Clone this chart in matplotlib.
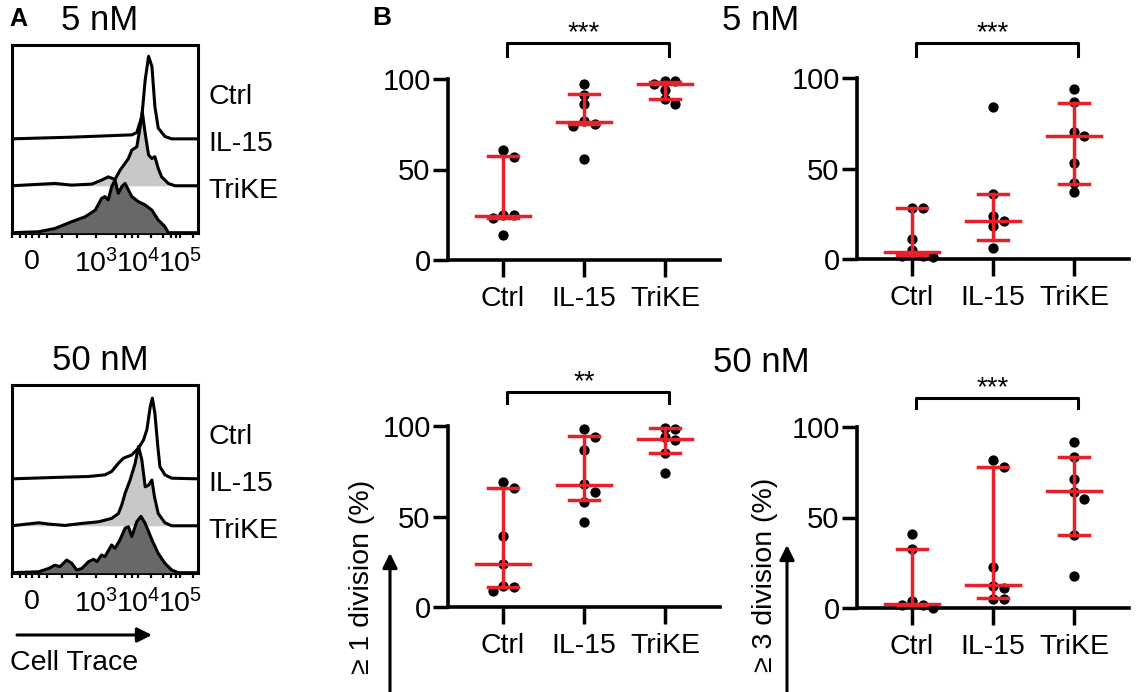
import numpy as np
import matplotlib
matplotlib.use("Agg")
import matplotlib.pyplot as plt
from matplotlib.patches import FancyArrowPatch

plt.rcParams['font.family'] = ['Liberation Sans', 'DejaVu Sans']
plt.rcParams['mathtext.default'] = 'regular'

# ---- panel A: Cell Trace histograms (x in decades, height in lane units) ----
conditions = ["Ctrl", "IL-15", "TriKE"]
hist_fill = ["white", "#c8c8c8", "#686868"]

ctrl5_x = [0.99, 2.42, 3.85, 3.97, 4.09, 4.17, 4.25, 4.33, 4.40, 4.48, 4.64, 4.80, 5.42]
ctrl5_h = [0, 0.036, 0.085, 0.135, 0.477, 1.26, 1.76, 1.54, 0.69, 0.23, 0.05, 0, 0]
il15_5_x = [0.99, 2.02, 2.42, 2.90, 3.13, 3.29, 3.45, 3.57, 3.77, 3.85, 3.97, 4.05, 4.10,
            4.17, 4.25, 4.33, 4.40, 4.48, 4.56, 4.72, 4.88, 5.42]
il15_5_h = [0, 0.05, 0.014, 0.036, 0.12, 0.19, 0.135, 0.33, 0.58, 0.76, 0.83, 1.26, 1.58,
            1.11, 0.655, 0.58, 0.62, 0.37, 0.19, 0.05, 0, 0]
trike5_x = [0.99, 1.63, 2.02, 2.42, 2.74, 2.98, 3.13, 3.21, 3.29, 3.37, 3.45, 3.53, 3.61,
            3.69, 3.77, 3.85, 4.01, 4.17, 4.33, 4.48, 4.64, 4.72, 5.42]
trike5_h = [0, 0.02, 0.09, 0.235, 0.34, 0.48, 0.73, 0.77, 0.70, 0.98, 1.12, 0.84, 0.98,
            1.05, 0.91, 0.77, 0.66, 0.59, 0.48, 0.27, 0.13, 0, 0]

ctrl50_x = [0.99, 2.02, 2.82, 3.21, 3.37, 3.53, 3.65, 3.85, 4.01, 4.13, 4.21, 4.29, 4.34,
            4.40, 4.47, 4.52, 4.64, 4.80, 5.42]
ctrl50_h = [0, 0.03, 0.05, 0.085, 0.157, 0.33, 0.44, 0.51, 0.655, 0.83, 1.05, 1.54, 1.72,
            1.40, 0.69, 0.26, 0.085, 0.014, 0]
il15_50_x = [0.99, 1.63, 1.87, 2.26, 2.66, 3.06, 3.37, 3.53, 3.61, 3.69, 3.81, 3.93, 4.01,
             4.09, 4.17, 4.25, 4.33, 4.39, 4.48, 4.64, 4.80, 5.42]
il15_50_h = [0, 0.064, 0.036, 0.007, 0.05, 0.085, 0.157, 0.26, 0.44, 0.69, 0.975, 1.33, 1.69,
             1.40, 0.83, 0.865, 0.975, 0.62, 0.26, 0.064, 0, 0]
trike50_x = [0.99, 1.63, 1.87, 2.02, 2.14, 2.30, 2.42, 2.54, 2.66, 2.82, 2.94, 3.02, 3.13,
             3.21, 3.37, 3.45, 3.57, 3.69, 3.77, 3.85, 3.97, 4.07, 4.17, 4.33, 4.48, 4.64,
             4.80, 4.96, 5.42]
trike50_h = [0, 0.02, 0.09, 0.16, 0.128, 0.27, 0.2, 0.057, 0.09, 0.235, 0.285, 0.235, 0.377,
             0.34, 0.59, 0.52, 0.70, 0.95, 0.98, 0.77, 1.09, 1.20, 1.05, 0.70, 0.41, 0.2,
             0.057, 0, 0]

hist_major = [1.476, 3, 4, 5]
hist_major_labels = ["0", "$10^3$", "$10^4$", "$10^5$"]
hist_minor = [1.0, 1.19, 1.33, 1.63, 1.83, 2.18, 2.54, 3.48, 3.7, 3.85, 4.3, 4.6, 4.78,
              4.9, 5.3]

# ---- panel B: % divided, per group: points, median, lower / upper IQR ----
groups = ["Ctrl", "IL-15", "TriKE"]

div1_5nm = [[61, 57, 25, 25, 23, 14],
            [97, 91, 86, 77, 75, 74, 56],
            [99, 99, 97, 94, 89, 86]]
div1_5nm_stats = [(24.5, 23, 57.5), (76.5, 75, 91.5), (97, 89, 98.5)]

div3_5nm = [[28, 28, 11, 5, 1.5, 1.5, 1],
            [84, 36, 23.5, 21, 18, 6],
            [94, 87, 70, 68, 53, 42, 37]]
div3_5nm_stats = [(4, 2, 28), (21, 10.5, 36), (68, 41.5, 86)]

div1_50nm = [[69, 65.5, 39, 24, 11.5, 11, 9],
             [98.5, 94, 87, 68, 63.5, 58, 47],
             [99, 98.5, 94, 92, 85, 74]]
div1_50nm_stats = [(24, 11, 65.5), (67.5, 59, 94.5), (93, 85, 99)]

div3_50nm = [[41, 32.5, 3.7, 1.8, 1.8, 0],
             [82, 78, 22.5, 12, 11, 5, 5],
             [91.5, 83.5, 71, 64, 60, 40.5, 17.5]]
div3_50nm_stats = [(2.2, 1.8, 32.6), (12.5, 5.5, 78), (64.5, 40.5, 83.5)]

sig_labels = ["***", "***", "**", "***"]

RED = "#e8202a"
W, H = 1141, 692
fig = plt.figure(figsize=(W / 100, H / 100), dpi=100)


def px_axes(left, top, right, bottom):
    return fig.add_axes([left / W, 1 - bottom / H, (right - left) / W, (bottom - top) / H])


def hist_panel(top, curves, title):
    ax = px_axes(11.7, top, 197.7, top + 187.7)
    for i, (xs, hs) in enumerate(curves):
        off = 2 - i
        base = np.full(len(xs), off, dtype=float)
        top_line = base + np.array(hs)
        ax.fill_between(xs, base, top_line, color=hist_fill[i], zorder=1 + i, lw=0)
        ax.plot(xs, top_line, color="black", lw=2.2, zorder=1.5 + i,
                solid_joinstyle="round")
        ax.text(5.67, off + 0.89, conditions[i], fontsize=20.5, va="center",
                ha="left", clip_on=False)
    ax.set_xlim(0.99, 5.42)
    ax.set_ylim(0, 4.0)
    ax.set_yticks([])
    ax.set_xticks(hist_major)
    ax.set_xticklabels(hist_major_labels, fontsize=20.5)
    ax.set_xticks(hist_minor, minor=True)
    ax.tick_params(axis="x", which="both", length=3.5, width=1.6, direction="out", pad=8)
    for sp in ax.spines.values():
        sp.set_linewidth(2.2)
    fig.text(100 / W, 1 - (top - 24) / H, title, fontsize=25, ha="center", va="center")
    return ax


hist_panel(45, [(ctrl5_x, ctrl5_h), (il15_5_x, il15_5_h), (trike5_x, trike5_h)], "5 nM")
hist_panel(385, [(ctrl50_x, ctrl50_h), (il15_50_x, il15_50_h), (trike50_x, trike50_h)], "50 nM")


def swarm(vals, step=0.13):
    placed = []
    xs = []
    for v in vals:
        dx = 0
        for k in [0, 1, -1, 2, -2]:
            dx = k * step
            if all(((dx - a) * 81) ** 2 + ((v - b) * 1.81) ** 2 >= 9.0 ** 2 for a, b in placed):
                break
        placed.append((dx, v))
        xs.append(dx)
    return xs


def dot_panel(left, zero_y, pts, stats, sig, bracket):
    ax = px_axes(left, zero_y - 181, left + 272, zero_y)
    for i, vals in enumerate(pts):
        xs = [i + d for d in swarm(vals)]
        ax.plot(xs, vals, "o", color="black", ms=7.4, mec="none", clip_on=False, zorder=3)
        med, lo, hi = stats[i]
        ax.plot([i, i], [lo, hi], color=RED, lw=2.5, zorder=4, clip_on=False)
        ax.plot([i - 0.19, i + 0.19], [lo, lo], color=RED, lw=2.5, zorder=4, clip_on=False)
        ax.plot([i - 0.19, i + 0.19], [hi, hi], color=RED, lw=2.5, zorder=4, clip_on=False)
        ax.plot([i - 0.33, i + 0.33], [med, med], color=RED, lw=2.5, zorder=4, clip_on=False)
    ax.set_xlim(-0.68, 2.68)
    ax.set_ylim(0, 100)
    ax.set_yticks([0, 50, 100])
    ax.set_xticks(range(3))
    ax.set_xticklabels(groups)
    ax.tick_params(axis="y", length=11, width=2.5, pad=1.5, labelsize=21)
    ax.tick_params(axis="x", length=12, width=2.5, pad=7, labelsize=20.5)
    for s in ["top", "right"]:
        ax.spines[s].set_visible(False)
    for s in ["left", "bottom"]:
        ax.spines[s].set_linewidth(2.6)
    b_top, b_end = bracket
    ax.plot([0.05, 0.05, 2.05, 2.05], [b_end, b_top, b_top, b_end], color="black",
            lw=2.2, clip_on=False)
    ax.text(1.0, b_top + 1.5, sig, fontsize=20, ha="center", va="baseline")
    return ax


dot_panel(448, 260, div1_5nm, div1_5nm_stats, sig_labels[0], (120, 112.5))
dot_panel(857, 259, div3_5nm, div3_5nm_stats, sig_labels[1], (119.5, 112))
dot_panel(448, 607, div1_50nm, div1_50nm_stats, sig_labels[2], (119, 112.5))
dot_panel(857, 608, div3_50nm, div3_50nm_stats, sig_labels[3], (116, 110.5))

# titles, panel letters, axis labels and arrows
fig.text(18.5 / W, 1 - 19 / H, "A", fontsize=18, fontweight="bold", ha="center", va="center")
fig.text(382 / W, 1 - 18 / H, "B", fontsize=19, fontweight="bold", ha="center", va="center")
fig.text(761 / W, 1 - 20 / H, "5 nM", fontsize=25, ha="center", va="center")
fig.text(761 / W, 1 - 362 / H, "50 nM", fontsize=25, ha="center", va="center")

fig.text(362 / W, 1 - 480 / H, "\u2265 1 division (%)", fontsize=20.5, rotation=90,
         ha="center", va="top")
fig.text(765 / W, 1 - 478 / H, "\u2265 3 division (%)", fontsize=20.5, rotation=90,
         ha="center", va="top")
fig.text(10 / W, 1 - 663 / H, "Cell Trace", fontsize=20.5, ha="left", va="center")

arrow = dict(arrowstyle="-|>", lw=2.2, color="black", mutation_scale=22, shrinkA=0, shrinkB=0)
fig.add_artist(FancyArrowPatch((17 / W, 1 - 635 / H), (152 / W, 1 - 635 / H),
                               transform=fig.transFigure, **arrow))
fig.add_artist(FancyArrowPatch((390 / W, 0), (390 / W, 1 - 553 / H),
                               transform=fig.transFigure, **arrow))
fig.add_artist(FancyArrowPatch((787 / W, 0), (787 / W, 1 - 545 / H),
                               transform=fig.transFigure, **arrow))

fig.savefig("out.png", dpi=100)
